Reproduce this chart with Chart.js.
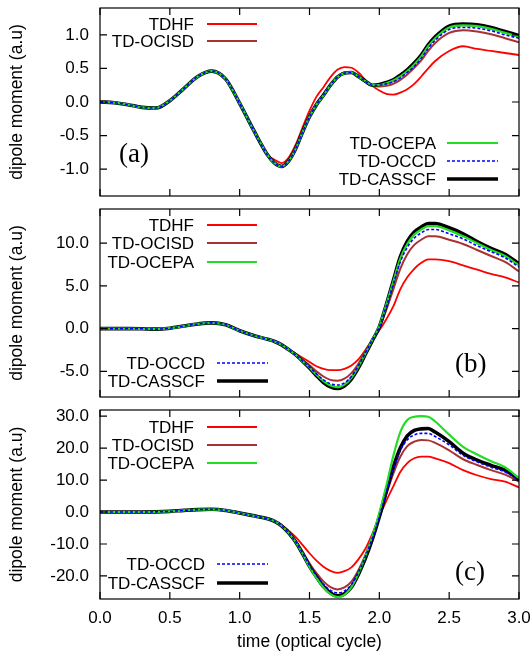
<!DOCTYPE html>
<html>
<head>
<meta charset="utf-8">
<script src="https://cdn.jsdelivr.net/npm/chart.js@4.4.1/dist/chart.umd.min.js"></script>
<style>
  html, body { margin: 0; padding: 0; background: #fff; }
  #wrap { position: relative; width: 532px; height: 656px; }
  canvas { position: absolute; left: 0; top: 0; }
</style>
</head>
<body>
<div id="wrap">
  <canvas id="chartA" width="532" height="656"></canvas>
  <canvas id="chartB" width="532" height="656"></canvas>
  <canvas id="chartC" width="532" height="656"></canvas>
</div>
<script>
// time axis (optical cycles), shared by all three panels
const times = [0, 0.1, 0.2, 0.3, 0.4, 0.5, 0.6, 0.7, 0.8, 0.9, 1.0, 1.1, 1.2,
  1.25, 1.3, 1.35, 1.4, 1.45, 1.5, 1.55, 1.6, 1.65, 1.7, 1.75, 1.8, 1.85, 1.9, 1.95,
  2.0, 2.05, 2.1, 2.15, 2.2, 2.25, 2.3, 2.35, 2.4, 2.5, 2.6, 2.7, 2.8, 2.9, 3.0];
const xTicks = [0, 0.5, 1.0, 1.5, 2.0, 2.5, 3.0];
const seriesNames = ['TDHF', 'TD-OCISD', 'TD-OCEPA', 'TD-OCCD', 'TD-CASSCF'];

// panel (a)
const yTicksA = [-1.0, -0.5, 0.0, 0.5, 1.0];
const tdhfA = [0, -0.01, -0.04, -0.08, -0.09, 0.02, 0.20, 0.38, 0.46, 0.34, -0.02, -0.42, -0.79,
  -0.86, -0.91, -0.83, -0.64, -0.38, -0.13, 0.08, 0.22, 0.37, 0.48, 0.52, 0.51, 0.44, 0.33, 0.24,
  0.17, 0.12, 0.11, 0.14, 0.19, 0.27, 0.38, 0.50, 0.61, 0.76, 0.83, 0.79, 0.76, 0.73, 0.70];
const ocisdA = [0, -0.01, -0.04, -0.08, -0.09, 0.02, 0.20, 0.38, 0.46, 0.34, -0.02, -0.42, -0.79,
  -0.90, -0.95, -0.87, -0.69, -0.43, -0.20, -0.02, 0.12, 0.26, 0.38, 0.44, 0.44, 0.38, 0.30, 0.24,
  0.23, 0.24, 0.27, 0.33, 0.41, 0.51, 0.62, 0.76, 0.88, 1.03, 1.07, 1.05, 1.01, 0.95, 0.89];
const ocepaA = [0, -0.01, -0.04, -0.08, -0.09, 0.02, 0.20, 0.38, 0.46, 0.34, -0.02, -0.42, -0.79,
  -0.91, -0.96, -0.88, -0.70, -0.45, -0.22, -0.04, 0.10, 0.25, 0.37, 0.43, 0.44, 0.38, 0.31, 0.25,
  0.25, 0.28, 0.32, 0.38, 0.46, 0.56, 0.68, 0.83, 0.95, 1.11, 1.14, 1.13, 1.09, 1.03, 0.97];
const occdA = [0, -0.01, -0.04, -0.08, -0.09, 0.02, 0.20, 0.38, 0.46, 0.34, -0.02, -0.42, -0.79,
  -0.91, -0.96, -0.88, -0.70, -0.45, -0.22, -0.04, 0.10, 0.25, 0.37, 0.43, 0.44, 0.38, 0.31, 0.25,
  0.25, 0.27, 0.30, 0.36, 0.44, 0.53, 0.65, 0.80, 0.92, 1.08, 1.11, 1.10, 1.06, 1.00, 0.95];
const casscfA = [0, -0.01, -0.04, -0.08, -0.09, 0.02, 0.20, 0.38, 0.46, 0.34, -0.02, -0.42, -0.79,
  -0.91, -0.96, -0.88, -0.70, -0.45, -0.22, -0.04, 0.10, 0.25, 0.37, 0.43, 0.44, 0.38, 0.31, 0.25,
  0.26, 0.29, 0.33, 0.40, 0.48, 0.58, 0.70, 0.85, 0.97, 1.13, 1.16, 1.15, 1.11, 1.05, 0.99];

// panel (b)
const yTicksB = [-5.0, 0.0, 5.0, 10.0];
const tdhfB = [0, 0, 0, -0.02, -0.06, 0.05, 0.30, 0.55, 0.68, 0.45, -0.25, -0.80, -1.25,
  -1.5, -1.85, -2.4, -2.9, -3.4, -3.9, -4.4, -4.7, -4.85, -4.85, -4.7, -4.3, -3.6, -2.5, -1.3,
  -0.2, 1.1, 2.6, 4.6, 6.0, 7.0, 7.7, 8.1, 8.1, 7.9, 7.4, 6.9, 6.4, 6.0, 5.4];
const ocisdB = [0, 0, 0, -0.02, -0.06, 0.05, 0.30, 0.55, 0.68, 0.45, -0.25, -0.80, -1.25,
  -1.5, -1.9, -2.4, -2.95, -3.65, -4.3, -5.0, -5.6, -6.0, -6.1, -5.85, -5.2, -4.1, -2.7, -1.3,
  0.1, 2.2, 4.6, 7.0, 8.7, 9.8, 10.4, 10.8, 10.8, 10.4, 9.9, 9.2, 8.5, 7.8, 6.7];
const ocepaB = [0, 0, 0, -0.02, -0.06, 0.05, 0.30, 0.55, 0.68, 0.45, -0.25, -0.80, -1.25,
  -1.5, -1.9, -2.45, -3.05, -3.8, -4.55, -5.4, -6.15, -6.65, -6.85, -6.55, -5.75, -4.45, -2.9, -1.3,
  0.3, 2.8, 5.5, 8.2, 9.9, 11.0, 11.6, 12.0, 12.0, 11.5, 10.8, 10.0, 9.2, 8.5, 7.4];
const occdB = [0, 0, 0, -0.02, -0.06, 0.05, 0.30, 0.55, 0.68, 0.45, -0.25, -0.80, -1.25,
  -1.5, -1.9, -2.45, -3.05, -3.8, -4.5, -5.3, -6.0, -6.45, -6.6, -6.35, -5.6, -4.35, -2.85, -1.3,
  0.2, 2.6, 5.2, 7.8, 9.5, 10.6, 11.2, 11.6, 11.6, 11.1, 10.5, 9.7, 9.0, 8.3, 7.2];
const casscfB = [0, 0, 0, -0.02, -0.06, 0.05, 0.30, 0.55, 0.68, 0.45, -0.25, -0.80, -1.25,
  -1.5, -1.9, -2.45, -3.05, -3.8, -4.6, -5.5, -6.3, -6.8, -7.0, -6.7, -5.9, -4.6, -3.0, -1.4,
  0.2, 2.8, 5.6, 8.4, 10.2, 11.3, 11.9, 12.3, 12.3, 11.8, 11.1, 10.2, 9.4, 8.7, 7.6];

// panel (c)
const yTicksC = [-20.0, -10.0, 0.0, 10.0, 20.0, 30.0];
const tdhfC = [0, 0, 0, 0, 0.05, 0.2, 0.5, 0.75, 0.85, 0.5, -0.3, -1.2, -2.1,
  -2.8, -4.0, -5.8, -7.8, -10.3, -12.9, -15.2, -17.1, -18.4, -19.0, -18.5, -17.3, -14.8, -11.5, -6.8,
  -1.5, 3.5, 8.0, 12.5, 15.3, 16.8, 17.3, 17.3, 16.8, 15.3, 13.1, 11.5, 10.3, 9.5, 7.7];
const ocisdC = [0, 0, 0, 0, 0.05, 0.2, 0.5, 0.75, 0.85, 0.5, -0.3, -1.2, -2.1,
  -2.9, -4.2, -6.3, -8.9, -12.3, -16.0, -19.1, -21.7, -23.5, -24.2, -23.6, -21.8, -18.2, -13.5, -8.0,
  -1.7, 5.5, 12.0, 17.3, 20.6, 22.0, 22.5, 22.4, 21.6, 19.3, 16.5, 14.7, 13.1, 11.7, 9.5];
const ocepaC = [0, 0, 0, 0, 0.05, 0.2, 0.5, 0.75, 0.85, 0.5, -0.3, -1.2, -2.1,
  -2.9, -4.3, -6.5, -9.3, -13.0, -17.2, -20.6, -23.6, -25.7, -26.6, -25.9, -23.5, -19.2, -13.8, -7.5,
  -0.3, 8.2, 17.5, 25.0, 28.8, 29.8, 30.0, 29.8, 28.3, 24.2, 20.4, 18.0, 15.9, 14.0, 10.6];
const occdC = [0, 0, 0, 0, 0.05, 0.2, 0.5, 0.75, 0.85, 0.5, -0.3, -1.2, -2.1,
  -2.9, -4.3, -6.5, -9.2, -12.8, -16.7, -19.8, -22.6, -24.5, -25.3, -24.7, -22.7, -18.9, -14.0, -8.2,
  -1.5, 6.2, 13.4, 19.2, 22.6, 24.1, 24.6, 24.6, 23.6, 21.0, 17.7, 15.7, 14.0, 12.5, 9.9];
const casscfC = [0, 0, 0, 0, 0.05, 0.2, 0.5, 0.75, 0.85, 0.5, -0.3, -1.2, -2.1,
  -2.9, -4.3, -6.5, -9.3, -13.0, -17.0, -20.3, -23.3, -25.3, -26.2, -25.6, -23.5, -19.5, -14.5, -8.5,
  -1.5, 6.5, 14.0, 20.0, 23.8, 25.5, 26.0, 26.1, 25.0, 22.0, 18.4, 16.2, 14.6, 13.1, 10.3];

const FONT = '"Liberation Sans", Arial, sans-serif';

// line styles, same order as seriesNames; lower order is drawn on top
const styles = [
  { color: '#ff0000', width: 1.8, dash: [], order: 4 },
  { color: '#a83232', width: 2, dash: [], order: 3 },
  { color: '#22dd22', width: 2.2, dash: [], order: 1 },
  { color: '#0000ff', width: 1.6, dash: [3, 2], order: 0 },
  { color: '#000000', width: 3.6, dash: [], order: 2 }
];

// gnuplot-like frame: box, inward ticks on all sides, key and panel label
const framePlugin = {
  id: 'frame',
  afterDatasetsDraw(chart, args, opts) {
    const { ctx, chartArea: a, scales: { x, y } } = chart;
    const tl = 7;
    ctx.save();
    ctx.strokeStyle = '#000';
    ctx.lineWidth = 1.2;
    ctx.strokeRect(a.left, a.top, a.right - a.left, a.bottom - a.top);
    ctx.beginPath();
    xTicks.forEach(v => {
      const px = x.getPixelForValue(v);
      ctx.moveTo(px, a.bottom); ctx.lineTo(px, a.bottom - tl);
      ctx.moveTo(px, a.top); ctx.lineTo(px, a.top + tl);
    });
    opts.yTicks.forEach(v => {
      const py = y.getPixelForValue(v);
      ctx.moveTo(a.left, py); ctx.lineTo(a.left + tl, py);
      ctx.moveTo(a.right, py); ctx.lineTo(a.right - tl, py);
    });
    ctx.stroke();

    ctx.font = '17px ' + FONT;
    ctx.fillStyle = '#000';
    ctx.textAlign = 'right';
    ctx.textBaseline = 'alphabetic';
    opts.key.forEach(e => {
      ctx.fillText(seriesNames[e.i], e.x, e.y + 6);
      const st = styles[e.i];
      ctx.strokeStyle = st.color;
      ctx.lineWidth = st.width;
      ctx.setLineDash(st.dash);
      ctx.beginPath();
      ctx.moveTo(e.x1, e.y); ctx.lineTo(e.x2, e.y);
      ctx.stroke();
      ctx.setLineDash([]);
    });

    ctx.font = '27px "Liberation Serif", "Times New Roman", serif';
    ctx.textAlign = 'left';
    ctx.fillText(opts.label, opts.lx, opts.ly);
    ctx.restore();
  }
};

function makeDatasets(seriesList) {
  return seriesList.map((vals, i) => ({
    label: seriesNames[i],
    data: times.map((t, k) => ({ x: t, y: vals[k] })),
    borderColor: styles[i].color,
    borderWidth: styles[i].width,
    borderDash: styles[i].dash,
    order: styles[i].order,
    pointRadius: 0,
    fill: false,
    cubicInterpolationMode: 'monotone'
  }));
}

function makePanel(id, seriesList, yMin, yMax, yTicks, padTop, padBottom, showX, frame) {
  frame.yTicks = yTicks;
  return new Chart(document.getElementById(id), {
    type: 'line',
    data: { datasets: makeDatasets(seriesList) },
    options: {
      responsive: false,
      animation: false,
      events: [],
      layout: { padding: { left: 0, right: 13, top: padTop, bottom: padBottom } },
      plugins: {
        legend: { display: false },
        tooltip: { enabled: false },
        frame: frame
      },
      scales: {
        x: {
          type: 'linear', min: 0, max: 3, display: showX,
          afterBuildTicks: s => { s.ticks = xTicks.map(v => ({ value: v })); },
          afterFit: s => { s.height = showX ? 54 : 0; s.paddingLeft = 0; s.paddingRight = 0; },
          grid: { display: false, drawTicks: false },
          border: { display: false },
          ticks: { color: '#000', padding: 9, autoSkip: false, maxRotation: 0,
                   font: { family: FONT, size: 17 }, callback: v => v.toFixed(1) },
          title: { display: showX, text: 'time (optical cycle)', color: '#000',
                   font: { family: FONT, size: 17.5 }, padding: { top: 0, bottom: 0 } }
        },
        y: {
          min: yMin, max: yMax,
          afterBuildTicks: s => { s.ticks = yTicks.map(v => ({ value: v })); },
          afterFit: s => { s.width = 100; s.paddingTop = 0; s.paddingBottom = 0; },
          grid: { display: false, drawTicks: false },
          border: { display: false },
          ticks: { color: '#000', padding: 11, font: { family: FONT, size: 17 },
                   callback: v => v.toFixed(1) },
          title: { display: true, text: 'dipole moment (a.u)', color: '#000',
                   font: { family: FONT, size: 17.5 }, padding: { top: 7, bottom: 0 } }
        }
      }
    },
    plugins: [framePlugin]
  });
}

makePanel('chartA', [tdhfA, ocisdA, ocepaA, occdA, casscfA], -1.4, 1.4, yTicksA, 8, 460, false, {
  label: '(a)', lx: 119, ly: 162,
  key: [
    { i: 0, x: 194, y: 24, x1: 207, x2: 257 },
    { i: 1, x: 194, y: 41, x1: 207, x2: 257 },
    { i: 2, x: 436, y: 143, x1: 447, x2: 498 },
    { i: 3, x: 436, y: 161, x1: 447, x2: 498 },
    { i: 4, x: 436, y: 179, x1: 447, x2: 498 }
  ]
});

makePanel('chartB', [tdhfB, ocisdB, ocepaB, occdB, casscfB], -8, 14, yTicksB, 209, 259, false, {
  label: '(b)', lx: 455, ly: 372,
  key: [
    { i: 0, x: 194, y: 225, x1: 207, x2: 257 },
    { i: 1, x: 194, y: 243, x1: 207, x2: 257 },
    { i: 2, x: 194, y: 262, x1: 207, x2: 257 },
    { i: 3, x: 205, y: 363, x1: 217, x2: 268 },
    { i: 4, x: 205, y: 381, x1: 217, x2: 268 }
  ]
});

makePanel('chartC', [tdhfC, ocisdC, ocepaC, occdC, casscfC], -27.2, 31.9, yTicksC, 410, 3, true, {
  label: '(c)', lx: 455, ly: 580,
  key: [
    { i: 0, x: 194, y: 427, x1: 207, x2: 257 },
    { i: 1, x: 194, y: 445, x1: 207, x2: 257 },
    { i: 2, x: 194, y: 463, x1: 207, x2: 257 },
    { i: 3, x: 205, y: 564, x1: 217, x2: 268 },
    { i: 4, x: 205, y: 583, x1: 217, x2: 268 }
  ]
});
</script>
</body>
</html>
